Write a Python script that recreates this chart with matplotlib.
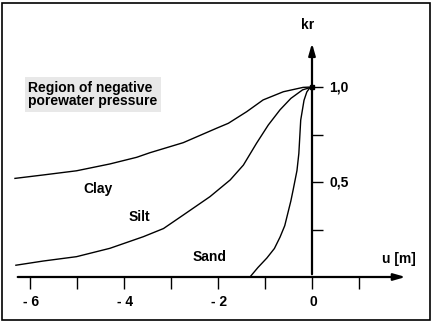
import matplotlib.pyplot as plt
from matplotlib.patches import Rectangle

plt.rcParams['font.family'] = ['Liberation Sans', 'DejaVu Sans']
plt.rcParams['font.weight'] = 'bold'

# pore water pressure u [m] and relative permeability kr
clay_u = [-6.32, -5.72, -5.01, -4.30, -3.73, -3.45, -2.74, -2.03, -1.78, -1.39, -1.04, -0.61, -0.19, 0.0]
clay_kr = [0.519, 0.537, 0.559, 0.595, 0.630, 0.654, 0.707, 0.783, 0.809, 0.870, 0.932, 0.975, 0.998, 1.0]

silt_u = [-6.3, -5.72, -5.01, -4.30, -3.59, -3.16, -2.74, -2.17, -1.74, -1.46, -1.18, -0.93, -0.68,
          -0.45, -0.2, 0.0]
silt_kr = [0.062, 0.084, 0.107, 0.151, 0.212, 0.255, 0.326, 0.423, 0.511, 0.589, 0.704, 0.80, 0.88,
           0.94, 0.985, 1.0]

sand_u = [-1.32, -1.15, -0.96, -0.80, -0.68, -0.58, -0.51, -0.45, -0.40, -0.36, -0.32, -0.28, -0.24,
          -0.17, -0.11, -0.05, 0.0]
sand_kr = [0.0, 0.05, 0.1, 0.15, 0.21, 0.27, 0.34, 0.40, 0.46, 0.51, 0.56, 0.65, 0.826,
           0.93, 0.974, 0.995, 1.0]

u_ticks = [-6, -5, -4, -3, -2, -1, 0, 1]
u_labels = {-6: '- 6', -4: '- 4', -2: '- 2', 0: '0'}
kr_ticks = [0.25, 0.5, 0.75, 1.0]
kr_labels = {0.5: '0,5', 1.0: '1,0'}

W, H = 434, 323
fig = plt.figure(figsize=(W / 100, H / 100), dpi=100)
ax = fig.add_axes([0, 0, 1, 1])
# pixel -> data: u = (x - 312) / 47, kr = (277 - y) / 190
ax.set_xlim((0 - 312) / 47, (W - 312) / 47)
ax.set_ylim((277 - H) / 190, 277 / 190)
ax.axis('off')

# outer frame
fig.patches.append(Rectangle((2 / W, 3 / H), 428 / W, 317 / H, transform=fig.transFigure,
                             fill=False, edgecolor='black', linewidth=1.2))

# axes with arrows
ax.annotate('', xy=(2.05, 0), xytext=(-6.32, 0),
            arrowprops=dict(arrowstyle='-|>,head_length=0.7,head_width=0.2', color='black', lw=1.6))
ax.annotate('', xy=(0, 1.245), xytext=(0, 0),
            arrowprops=dict(arrowstyle='-|>,head_length=0.7,head_width=0.2', color='black', lw=1.6))

# ticks
ax.vlines(u_ticks, -0.065, 0, color='black', lw=1.0)
ax.hlines(kr_ticks, 0, 0.24, color='black', lw=1.0)
for t, s in u_labels.items():
    ax.text(t + 0.03, -0.13, s, ha='center', va='center', fontsize=10, fontweight='bold')
for t, s in kr_labels.items():
    ax.text(0.37, t, s, ha='left', va='center', fontsize=10, fontweight='bold')

ax.text(-0.09, 1.326, 'kr', ha='center', va='center', fontsize=10, fontweight='bold')
ax.text(1.5, 0.095, 'u [m]', ha='left', va='center', fontsize=10, fontweight='bold')

# curves
for u, kr in [(clay_u, clay_kr), (silt_u, silt_kr), (sand_u, sand_kr)]:
    ax.plot(u, kr, color='black', lw=1.0)
ax.plot([0], [1.0], 's', color='black', ms=3)

ax.text(-4.87, 0.463, 'Clay', ha='left', va='center', fontsize=10, fontweight='bold')
ax.text(-3.91, 0.316, 'Silt', ha='left', va='center', fontsize=10, fontweight='bold')
ax.text(-2.55, 0.105, 'Sand', ha='left', va='center', fontsize=10, fontweight='bold')

ax.text(-6.04, 0.96, 'Region of negative\nporewater pressure', ha='left', va='center',
        fontsize=10, fontweight='bold', linespacing=0.95,
        bbox=dict(boxstyle='square,pad=0.25', facecolor='#e8e8e8', edgecolor='none'))

fig.savefig('out.png', dpi=100)
